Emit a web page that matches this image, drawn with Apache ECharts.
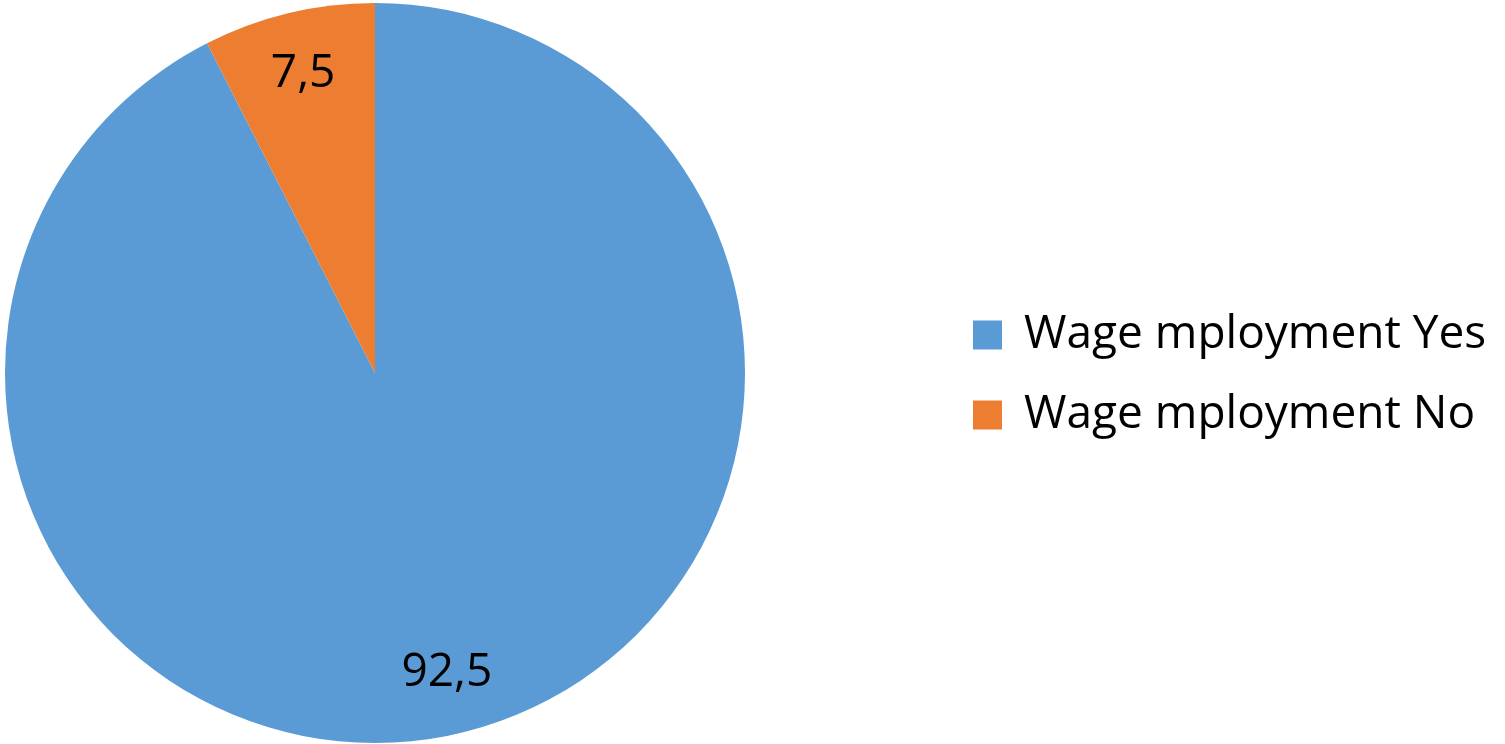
<!DOCTYPE html>
<html>
<head>
<meta charset="utf-8">
<style>
  html, body { margin: 0; padding: 0; background: #fff; }
  #chart { width: 1505px; height: 744px; }
</style>
<script src="https://cdn.jsdelivr.net/npm/echarts@6/dist/echarts.min.js"></script>
</head>
<body>
<div id="chart"></div>
<script>
// 数据
const categories = ['Wage mployment Yes', 'Wage mployment No']
const values = [92.5, 7.5]
const labels = ['92,5', '7,5']
const colors = ['#5B9BD5', '#ED7D31']

const pieData = categories.map((name, i) => ({
  name,
  value: values[i],
  itemStyle: { color: colors[i] }
}))

const chart = echarts.init(document.getElementById('chart'))

chart.setOption({
  animation: false,
  backgroundColor: '#ffffff',
  legend: {
    orient: 'vertical',
    left: 968,
    top: 305,
    itemWidth: 29,
    itemHeight: 29,
    itemGap: 30,
    icon: 'rect',
    data: categories,
    textStyle: {
      fontFamily: 'Open Sans',
      fontSize: 46,
      lineHeight: 50,
      color: '#000',
      padding: [0, 0, 0, 17]
    }
  },
  series: [
    {
      type: 'pie',
      center: [375, 373],
      radius: [0, 370],
      startAngle: 90,
      clockwise: true,
      silent: true,
      itemStyle: { borderWidth: 0 },
      label: { show: false },
      labelLine: { show: false },
      data: pieData
    },
    {
      // 透明环仅用于放置数据标签
      type: 'pie',
      center: [375, 373],
      radius: [240, 370],
      startAngle: 90,
      clockwise: true,
      silent: true,
      itemStyle: { color: 'rgba(0,0,0,0)', borderWidth: 0 },
      label: {
        show: true,
        position: 'inside',
        fontFamily: 'Open Sans',
        fontSize: 46,
        color: '#000',
        formatter: (p) => labels[p.dataIndex]
      },
      labelLine: { show: false },
      data: categories.map((name, i) => ({ name, value: values[i] }))
    }
  ]
})
</script>
</body>
</html>
